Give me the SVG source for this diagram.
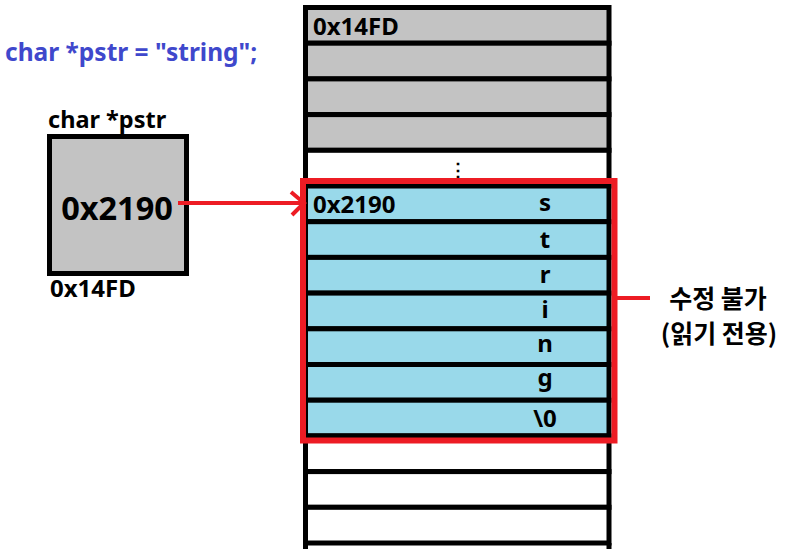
<svg xmlns="http://www.w3.org/2000/svg" width="802" height="558" viewBox="0 0 802 558">
<style>
text{font-family:"Noto Sans","Noto Sans CJK KR",sans-serif;font-weight:bold;fill:#000}
.cell{stroke:#000;stroke-width:5}
.g{fill:#c3c3c3}
.w{fill:#fff}
.b{fill:#99d9ea}
.ch{font-size:24px;text-anchor:middle}
.lb{font-size:24px}
.kr{font-size:25px;text-anchor:middle;font-family:"Noto Sans CJK KR",sans-serif}
.red{stroke:#ed1c24;fill:none}
</style>
<rect width="802" height="558" fill="#fff"/>
<text x="5" y="61" style="font-size:24.5px;fill:#3f48cc">char *pstr = "string";</text>
<g id="pstr">
<text x="48" y="128" style="font-size:23.5px">char *pstr</text>
<rect x="49.5" y="136.5" width="137" height="137" class="cell g"/>
<text x="117" y="220" style="font-size:32.5px;text-anchor:middle">0x2190</text>
<text x="50" y="297" class="lb">0x14FD</text>
</g>
<g id="memory">
<rect x="305.5" y="7.5" width="303.5" height="35.7" class="cell g"/>
<rect x="305.5" y="43.2" width="303.5" height="35.7" class="cell g"/>
<rect x="305.5" y="78.9" width="303.5" height="35.7" class="cell g"/>
<rect x="305.5" y="114.6" width="303.5" height="35.7" class="cell g"/>
<rect x="305.5" y="150.3" width="303.5" height="35.7" class="cell w"/>
<rect x="305.5" y="186" width="303.5" height="35.7" class="cell b"/>
<rect x="305.5" y="221.7" width="303.5" height="35.7" class="cell b"/>
<rect x="305.5" y="257.4" width="303.5" height="35.7" class="cell b"/>
<rect x="305.5" y="293.1" width="303.5" height="35.7" class="cell b"/>
<rect x="305.5" y="328.8" width="303.5" height="35.7" class="cell b"/>
<rect x="305.5" y="364.5" width="303.5" height="35.7" class="cell b"/>
<rect x="305.5" y="400.2" width="303.5" height="35.7" class="cell b"/>
<rect x="305.5" y="435.9" width="303.5" height="35.7" class="cell w"/>
<rect x="305.5" y="471.6" width="303.5" height="35.7" class="cell w"/>
<rect x="305.5" y="507.3" width="303.5" height="35.7" class="cell w"/>
<line x1="305.5" y1="543" x2="305.5" y2="549" class="cell"/>
<line x1="609" y1="543" x2="609" y2="549" class="cell"/>
<text x="313" y="35" class="lb">0x14FD</text>
<text x="458" y="176" style="font-size:18px;text-anchor:middle">⋮</text>
<text x="313" y="213" class="lb">0x2190</text>
<text x="545" y="211" class="ch">s</text>
<text x="545" y="248" class="ch">t</text>
<text x="545" y="283" class="ch">r</text>
<text x="545" y="318" class="ch">i</text>
<text x="545" y="352" class="ch">n</text>
<text x="545" y="386" class="ch">g</text>
<text x="545" y="427" class="ch">\0</text>
</g>
<g id="readonly">
<rect x="303" y="181" width="311.5" height="259.5" class="red" stroke-width="6"/>
<text x="718" y="308" class="kr">수정 불가</text>
<text x="719" y="343" class="kr">(읽기 전용)</text>
</g>
<g id="connectors">
<line x1="178" y1="203" x2="304" y2="203" class="red" stroke-width="4"/>
<polyline points="291,192 304,203 292,215" class="red" stroke-width="4"/>
<line x1="617" y1="298" x2="650" y2="298" class="red" stroke-width="4"/>
</g>
</svg>
